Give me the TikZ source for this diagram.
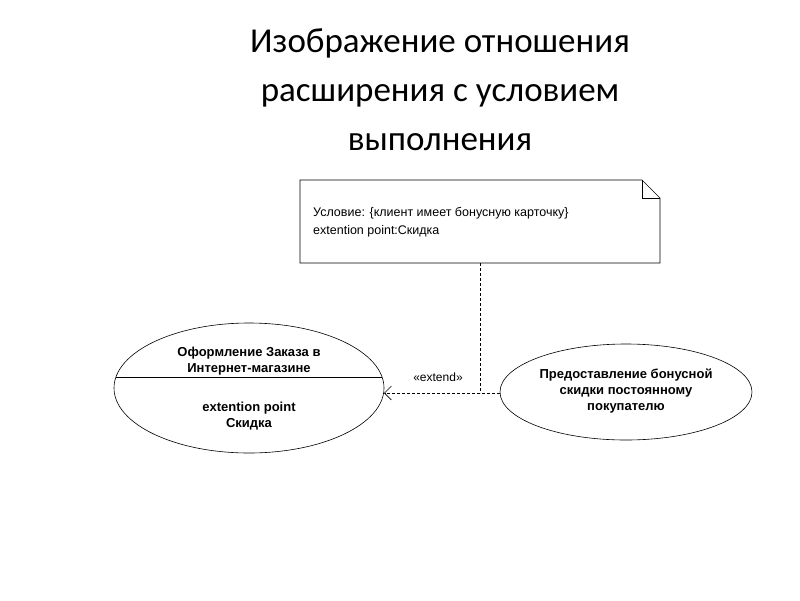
\documentclass[tikz,border=0pt]{standalone}
\usepackage{fontspec}
\setmainfont{Liberation Sans}
\newfontfamily\titlefont{Carlito}
\usetikzlibrary{arrows.meta}
\begin{document}
\begin{tikzpicture}[x=1pt,y=-1pt,
  txt/.style={font=\fontsize{13}{16}\selectfont\bfseries,align=center,inner sep=0},
  dline/.style={densely dashed,line width=0.6pt}]
\useasboundingbox (0,0) rectangle (800,600);
\node[font=\titlefont\fontsize{35}{49}\selectfont,align=center] (title) at (440,90)
  {Изображение отношения\\расширения с условием\\выполнения};
% note
\draw[line width=0.6pt] (300,180) -- (642,180) -- (660,198) -- (660,263) -- (300,263) -- cycle;
\draw[line width=0.6pt] (642,180) -- (642,198) -- (660,198);
\node[anchor=west,align=left,font=\fontsize{12.5}{18}\selectfont,inner sep=0] (note) at (313,222)
  {Условие: \{клиент имеет бонусную карточку\}\\extention point:Скидка};
\coordinate (nb) at (480,263);
% left ellipse
\draw[line width=0.6pt] (249,388) ellipse [x radius=135,y radius=65];
\coordinate (L) at (384,393);
\draw[line width=0.6pt] (116,377) -- (382,377);
\node[txt] (l1) at (249,361) {Оформление Заказа в\\Интернет-магазине};
\node[txt] (l2) at (249,416) {extention point\\Скидка};
% right ellipse
\draw[line width=0.6pt] (626,392) ellipse [x radius=126,y radius=48];
\node[txt] (r1) at (626,391) {Предоставление бонусной\\скидки постоянному\\покупателю};
\coordinate (R) at (500,393);
\coordinate (J) at (480,393);
\draw[dline,-{Straight Barb[length=7pt,width=14pt]}] (R) -- (L);
\draw[dline] (nb) -- (J);
\node[font=\fontsize{12}{14}\selectfont,inner sep=0] (ext) at (438,377) {<<extend>>};
\end{tikzpicture}
\end{document}
